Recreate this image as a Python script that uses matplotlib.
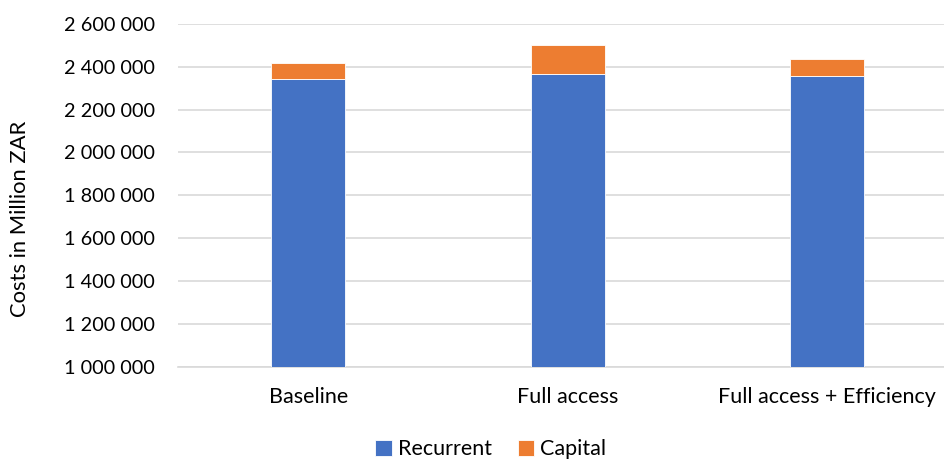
import matplotlib
matplotlib.use("Agg")
import matplotlib.pyplot as plt
from matplotlib.ticker import FuncFormatter, MultipleLocator

categories = ["Baseline", "Full access", "Full access + Efficiency"]
recurrent = [2342000, 2368000, 2356000]
capital = [75000, 132000, 81000]
series_names = ["Recurrent", "Capital"]

blue = "#4472C4"
orange = "#ED7D31"
grid_col = "#D9D9D9"

plt.rcParams["font.family"] = ["Lato", "DejaVu Sans"]

fig = plt.figure(figsize=(9.44, 4.59), dpi=100)
ax = fig.add_axes([0.189, 0.2015, 0.8247, 0.7462])

x = list(range(len(categories)))
w = 0.285
b1 = ax.bar(x, recurrent, width=w, color=blue, edgecolor="white", linewidth=0.6,
            label=series_names[0], zorder=3)
b2 = ax.bar(x, capital, width=w, bottom=recurrent, color=orange, edgecolor="white",
            linewidth=0.6, label=series_names[1], zorder=3)

ax.set_xlim(-0.5, 2.5)
ax.set_ylim(1000000, 2600000)
ax.yaxis.set_major_locator(MultipleLocator(200000))
ax.yaxis.set_major_formatter(FuncFormatter(lambda v, p: f"{int(v):,}".replace(",", " ")))
ax.grid(axis="y", color=grid_col, linewidth=1.2, zorder=0)
ax.set_axisbelow(True)

for s in ["top", "right", "left"]:
    ax.spines[s].set_visible(False)
ax.spines["bottom"].set_color(grid_col)
ax.spines["bottom"].set_linewidth(1.2)

ax.set_xticks(x)
ax.set_xticklabels(categories)
ax.tick_params(axis="both", length=0, colors="black")
ax.tick_params(axis="y", labelsize=14.3, pad=17)
ax.tick_params(axis="x", labelsize=15.5, pad=15)

ax.set_ylabel("Costs in Million ZAR", fontsize=15.8)
ax.yaxis.set_label_coords(-0.19, 0.43)

fig.legend(handles=[b1, b2], labels=series_names, loc="center", bbox_to_anchor=(0.52, 0.021),
           ncol=2, frameon=False, fontsize=15.5, handlelength=0.75, handleheight=0.75,
           handletextpad=0.3, columnspacing=1.2)

fig.savefig("out.png", dpi=100)
